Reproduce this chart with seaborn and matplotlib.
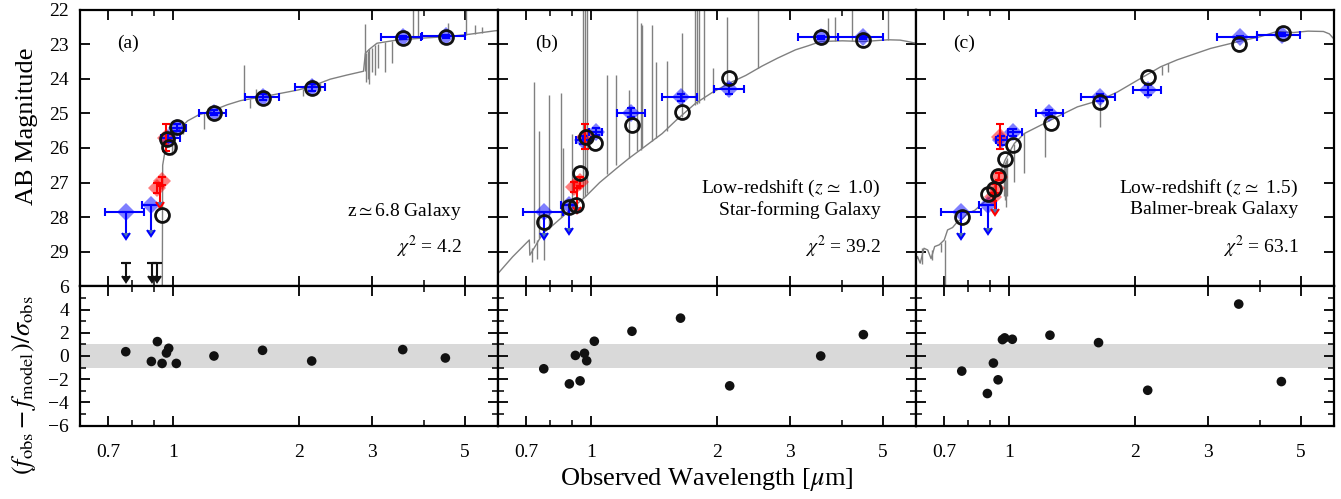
import numpy as np
import matplotlib
matplotlib.use('Agg')
import matplotlib.pyplot as plt
from matplotlib.ticker import FixedLocator, FixedFormatter, NullFormatter, MultipleLocator
import seaborn as sns

# filter wavelengths used in the residual rows [um]
res_wl = [0.772, 0.889, 0.919, 0.943, 0.966, 0.978, 1.02, 1.255, 1.64, 2.15, 3.55, 4.49]

# ---------------- panel (a): z~6.8 galaxy ----------------
a_spec_wl = [0.944, 0.946, 0.955, 0.97, 0.99, 1.02, 1.05, 1.084, 1.15, 1.255, 1.35, 1.453, 1.55, 1.64,
             1.81, 2.0, 2.155, 2.38, 2.61, 2.86, 2.89, 2.95, 3.08, 3.43, 3.98, 4.52, 5.13, 5.9, 6.05]
a_spec_mag = [30.5, 26.5, 26.2, 25.95, 25.7, 25.55, 25.4, 25.22, 25.05, 24.9, 24.75, 24.63, 24.57, 24.52,
              24.42, 24.32, 24.21, 24.01, 23.89, 23.78, 23.26, 23.15, 22.97, 22.88, 22.82, 22.78, 22.71, 22.61, 22.6]
a_feat_wl = [0.995, 1.005, 1.06, 1.19, 1.30, 1.48, 1.53, 1.58, 1.70, 2.05, 2.15, 2.25, 2.88, 2.90, 2.93,
             2.95, 2.99, 3.04, 3.10, 3.22, 3.35, 3.76, 3.87, 4.56, 5.04, 5.30, 5.50]
a_feat_from = [25.65, 25.6, 25.38, 25.0, 24.85, 24.62, 24.58, 24.55, 24.48, 24.3, 24.21, 24.12, 23.78, 23.25, 23.2,
               23.15, 23.1, 23.02, 22.98, 22.93, 22.9, 22.83, 22.82, 22.78, 22.72, 22.69, 22.67]
a_feat_to = [26.2, 26.1, 25.6, 25.45, 25.1, 23.6, 24.85, 24.3, 24.7, 24.5, 24.0, 24.35, 22.42, 24.1, 24.0,
             24.15, 23.8, 23.9, 23.7, 23.79, 23.55, 21.8, 21.8, 22.39, 22.0, 22.45, 22.5]
a_blue_wl = [0.772, 0.886, 0.975, 1.025, 1.255, 1.642, 2.155, 3.55, 4.50]
a_blue_mag = [27.84, 27.65, 25.72, 25.42, 24.98, 24.52, 24.25, 22.80, 22.77]
a_blue_err = [0.62, 0.72, 0.12, 0.10, 0.08, 0.08, 0.10, 0.04, 0.05]
a_blue_lo = [0.688, 0.843, 0.935, 0.99, 1.153, 1.485, 1.965, 3.15, 3.94]
a_blue_hi = [0.853, 0.931, 1.04, 1.074, 1.343, 1.80, 2.31, 3.93, 5.0]
a_blue_ul = [True, True, False, False, False, False, False, False, False]
a_red_wl = [0.962, 0.919, 0.940, 0.930]
a_red_mag = [25.70, 27.15, 26.95, 27.10]
a_red_err = [0.40, 0.15, 0.12, 0.45]
a_red_ul = [False, False, False, True]
a_model_wl = [0.945, 0.968, 0.977, 1.022, 1.255, 1.642, 2.155, 3.55, 4.50]
a_model_mag = [27.94, 25.73, 25.98, 25.40, 24.99, 24.56, 24.27, 22.81, 22.78]
a_lim_wl = [0.772, 0.894, 0.919]
a_lim_mag = [29.33, 29.33, 29.33]
a_res = [0.37, -0.47, 1.24, -0.64, 0.26, 0.66, -0.64, 0.0, 0.49, -0.43, 0.55, -0.17]

# ---------------- panel (b): z~1.0 star-forming ----------------
b_spec_wl = [0.6, 0.65, 0.713, 0.715, 0.74, 0.768, 0.8, 0.856, 0.9, 0.973, 1.05, 1.15, 1.234, 1.35, 1.483,
             1.6, 1.78, 1.95, 2.14, 2.35, 2.57, 2.8, 3.09, 3.3, 3.55, 4.0, 4.5, 5.15, 5.5, 5.73, 6.05]
b_spec_mag = [29.63, 29.15, 28.66, 29.1, 28.8, 28.47, 28.3, 27.99, 27.75, 27.4, 27.0, 26.6, 26.3, 25.95, 25.58,
              25.2, 24.71, 24.4, 24.13, 23.9, 23.63, 23.4, 23.16, 23.05, 22.92, 22.9, 22.92, 22.87, 22.88, 22.92, 22.98]
b_feat_wl = [0.722, 0.732, 0.745, 0.753, 0.775, 0.796, 0.848, 0.856, 0.904, 0.958, 0.969, 0.982, 1.096, 1.152,
             1.234, 1.288, 1.316, 1.328, 1.398, 1.435, 1.52, 1.655, 1.775, 1.797, 1.82, 1.87, 1.962, 2.118,
             2.51, 3.70, 3.84, 4.21, 5.15]
b_feat_from = [28.9, 28.75, 28.65, 28.6, 28.45, 28.35, 28.0, 27.95, 27.7, 27.45, 27.4, 27.3, 26.75, 26.5,
               26.3, 26.1, 26.05, 26.0, 25.8, 25.7, 25.5, 25.1, 24.75, 24.72, 24.7, 24.6, 24.4, 24.15,
               23.7, 22.91, 22.9, 22.9, 22.87]
b_feat_to = [29.3, 24.08, 29.2, 25.5, 29.25, 24.47, 24.42, 26.0, 25.6, 21.8, 21.8, 21.8, 23.89, 23.89,
             24.32, 21.8, 22.39, 22.44, 22.44, 23.5, 23.48, 22.68, 21.8, 21.8, 21.8, 21.8, 23.7, 22.2,
             21.8, 22.25, 22.2, 21.8, 21.8]
b_blue_wl = [0.771, 0.888, 0.96, 1.027, 1.246, 1.64, 2.14, 3.55, 4.48]
b_blue_mag = [27.84, 27.65, 25.77, 25.53, 24.98, 24.53, 24.30, 22.80, 22.79]
b_blue_err = [0.62, 0.67, 0.12, 0.10, 0.13, 0.10, 0.15, 0.04, 0.05]
b_blue_lo = [0.687, 0.848, 0.921, 0.989, 1.153, 1.48, 1.97, 3.14, 3.9]
b_blue_hi = [0.856, 0.929, 1.0, 1.066, 1.345, 1.80, 2.32, 3.9, 5.0]
b_blue_ul = [True, True, False, False, False, False, False, False, False]
b_red_wl = [0.969, 0.912, 0.943, 0.925]
b_red_mag = [25.68, 27.12, 26.97, 27.15]
b_red_err = [0.36, 0.15, 0.12, 0.55]
b_red_ul = [False, False, False, True]
b_model_wl = [0.771, 0.885, 0.921, 0.943, 0.973, 1.022, 1.253, 1.655, 2.147, 3.55, 4.49]
b_model_mag = [28.13, 27.72, 27.65, 26.73, 25.67, 25.86, 25.33, 24.95, 23.98, 22.80, 22.88]
b_res = [-1.1, -2.4, 0.05, -2.14, 0.23, -0.41, 1.27, 2.13, 3.26, -2.57, 0.0, 1.84]

# ---------------- panel (c): z~1.5 Balmer break ----------------
c_spec_wl = [0.598, 0.605, 0.614, 0.627, 0.64, 0.652, 0.665, 0.682, 0.701, 0.714, 0.734, 0.754, 0.775,
             0.797, 0.83, 0.857, 0.906, 0.924, 0.944, 0.98, 1.031, 1.09, 1.216, 1.33, 1.46, 1.65, 1.82,
             2.1, 2.31, 2.53, 3.04, 3.55, 4.0, 4.38, 4.8, 5.2, 5.66, 5.85, 6.05]
c_spec_mag = [29.3, 29.14, 29.33, 28.9, 28.95, 29.2, 28.85, 28.8, 28.66, 28.37, 28.3, 28.13, 28.05,
              27.89, 27.8, 27.65, 27.41, 27.12, 26.85, 26.35, 25.87, 25.58, 25.29, 25.05, 24.81, 24.62, 24.38,
              23.94, 23.65, 23.45, 23.12, 22.92, 22.78, 22.63, 22.66, 22.62, 22.63, 22.7, 22.9]
c_feat_wl = [0.62, 0.655, 0.69, 0.702, 0.976, 0.981, 0.987, 0.993, 1.031, 1.09, 1.22, 1.65, 2.33, 2.4]
c_feat_from = [28.9, 28.95, 28.75, 28.66, 26.45, 26.4, 26.35, 26.3, 25.87, 25.58, 25.29, 24.62, 23.62, 23.55]
c_feat_to = [29.35, 29.25, 29.0, 30.5, 27.4, 27.5, 27.7, 27.4, 26.97, 26.73, 26.25, 25.38, 23.9, 23.8]
c_blue_wl = [0.77, 0.891, 0.96, 1.022, 1.25, 1.65, 2.15, 3.57, 4.50]
c_blue_mag = [27.84, 27.65, 25.78, 25.55, 24.98, 24.53, 24.32, 22.80, 22.72]
c_blue_err = [0.63, 0.67, 0.12, 0.10, 0.08, 0.10, 0.14, 0.04, 0.05]
c_blue_lo = [0.689, 0.851, 0.933, 0.995, 1.162, 1.49, 1.98, 3.15, 3.93]
c_blue_hi = [0.856, 0.933, 0.99, 1.075, 1.35, 1.80, 2.31, 3.93, 4.98]
c_blue_ul = [True, True, False, False, False, False, False, False, False]
c_red_wl = [0.955, 0.919, 0.933, 0.946, 0.928]
c_red_mag = [25.67, 27.41, 27.17, 26.83, 27.35]
c_red_err = [0.36, 0.12, 0.12, 0.10, 0.40]
c_red_ul = [False, False, False, False, True]
c_model_wl = [0.773, 0.891, 0.921, 0.944, 0.98, 1.024, 1.262, 1.65, 2.15, 3.55, 4.53]
c_model_mag = [27.99, 27.34, 27.19, 26.80, 26.33, 25.91, 25.29, 24.68, 23.96, 23.00, 22.68]
c_res = [-1.3, -3.23, -0.61, -2.05, 1.41, 1.56, 1.44, 1.79, 1.15, -2.95, 4.47, -2.2]

panels = [
    dict(tag='(a)', lines=['z$\\simeq$6.8 Galaxy'], chi='$\\chi^2$ = 4.2',
         spec=(a_spec_wl, a_spec_mag), feat=(a_feat_wl, a_feat_from, a_feat_to),
         blue=(a_blue_wl, a_blue_mag, a_blue_err, a_blue_lo, a_blue_hi, a_blue_ul),
         red=(a_red_wl, a_red_mag, a_red_err, a_red_ul), model=(a_model_wl, a_model_mag),
         lim=(a_lim_wl, a_lim_mag), res=a_res),
    dict(tag='(b)', lines=['Low-redshift ($z\\,\\simeq$ 1.0)', 'Star-forming Galaxy'], chi='$\\chi^2$ = 39.2',
         spec=(b_spec_wl, b_spec_mag), feat=(b_feat_wl, b_feat_from, b_feat_to),
         blue=(b_blue_wl, b_blue_mag, b_blue_err, b_blue_lo, b_blue_hi, b_blue_ul),
         red=(b_red_wl, b_red_mag, b_red_err, b_red_ul), model=(b_model_wl, b_model_mag),
         lim=None, res=b_res),
    dict(tag='(c)', lines=['Low-redshift ($z\\,\\simeq$ 1.5)', 'Balmer-break Galaxy'], chi='$\\chi^2$ = 63.1',
         spec=(c_spec_wl, c_spec_mag), feat=(c_feat_wl, c_feat_from, c_feat_to),
         blue=(c_blue_wl, c_blue_mag, c_blue_err, c_blue_lo, c_blue_hi, c_blue_ul),
         red=(c_red_wl, c_red_mag, c_red_err, c_red_ul), model=(c_model_wl, c_model_mag),
         lim=None, res=c_res),
]

sns.set_theme(style='ticks')
plt.rcParams.update({
    'font.family': ['Liberation Serif', 'DejaVu Serif'],
    'mathtext.fontset': 'stix',
    'axes.linewidth': 1.6,
    'axes.edgecolor': 'black', 'axes.labelcolor': 'black', 'text.color': 'black',
    'xtick.color': 'black', 'ytick.color': 'black',
    'xtick.direction': 'in', 'ytick.direction': 'in',
    'xtick.top': True, 'ytick.right': True,
    'xtick.major.size': 7, 'ytick.major.size': 7,
    'xtick.minor.size': 4, 'ytick.minor.size': 4,
    'xtick.major.width': 1.3, 'ytick.major.width': 1.3,
    'xtick.minor.width': 1.1, 'ytick.minor.width': 1.1,
    'xtick.labelsize': 14, 'ytick.labelsize': 14,
    'xtick.major.pad': 13, 'ytick.major.pad': 8,
    'axes.labelsize': 19,
})

fig = plt.figure(figsize=(13.41, 4.99), dpi=100)
gs = fig.add_gridspec(2, 3, left=80 / 1341, right=1334 / 1341, top=1 - 9.7 / 499, bottom=1 - 425.7 / 499,
                      hspace=0, wspace=0, height_ratios=[276.6, 139.4])

spec_col = '#808080'
for i, p in enumerate(panels):
    ax = fig.add_subplot(gs[0, i])
    axr = fig.add_subplot(gs[1, i], sharex=ax)
    ax.set_xscale('log')
    ax.set_xlim(0.6, 6.0)
    ax.set_ylim(30, 22)

    wl, mag = p['spec']
    sns.lineplot(x=wl, y=mag, ax=ax, color=spec_col, lw=1.0, estimator=None, sort=False, zorder=1)
    fw, f0, f1 = p['feat']
    ax.vlines(fw, f0, f1, color=spec_col, lw=1.0, zorder=1)

    bw, bm, be, blo, bhi, bul = [np.array(v) for v in p['blue']]
    xe = np.vstack([bw - blo, bhi - bw])
    ax.plot(bw, bm, 'D', color='blue', alpha=0.5, ms=9, mew=0, zorder=2)
    det = ~bul
    ax.errorbar(bw[det], bm[det], yerr=be[det], xerr=xe[:, det], fmt='none', ecolor='blue',
                elinewidth=1.5, capsize=3, capthick=1.5, zorder=3)
    ax.errorbar(bw[bul], bm[bul], yerr=be[bul], xerr=xe[:, bul], lolims=True, fmt='none', ecolor='blue',
                elinewidth=1.5, capsize=3, capthick=1.5, zorder=3)

    rw, rm, re_, rul = [np.array(v) for v in p['red']]
    ax.plot(rw[~rul], rm[~rul], 'D', color='red', alpha=0.5, ms=9, mew=0, zorder=2)
    ax.errorbar(rw[~rul], rm[~rul], yerr=re_[~rul], fmt='none', ecolor='red', elinewidth=1.5,
                capsize=3, capthick=1.5, zorder=3)
    ax.errorbar(rw[rul], rm[rul], yerr=re_[rul], lolims=True, fmt='none', ecolor='red', elinewidth=1.5,
                capsize=3, capthick=1.5, zorder=3)

    mw, mm = p['model']
    ax.plot(mw, mm, 'o', mfc='none', mec='#111111', mew=2.0, ms=10, zorder=4)

    if p['lim'] is not None:
        lw_, lm = [np.array(v) for v in p['lim']]
        ax.errorbar(lw_, lm, yerr=0.36, lolims=True, fmt='_', color='#111111', ms=7, mew=1.5,
                    elinewidth=1.5, capsize=3, zorder=3)

    ax.text(0.088, 0.88, p['tag'], transform=ax.transAxes, fontsize=14, ha='left', va='center')
    ys = [0.354, 0.276] if len(p['lines']) == 2 else [0.27]
    for t, y in zip(p['lines'], ys):
        ax.text(0.915, y, t, transform=ax.transAxes, fontsize=14, ha='right', va='center')
    ax.text(0.915, 0.143, p['chi'], transform=ax.transAxes, fontsize=14, ha='right', va='center')

    ax.yaxis.set_major_locator(FixedLocator(list(range(22, 30))))
    ax.tick_params(labelbottom=False)

    # residuals
    axr.axhspan(-1, 1, color='#d9d9d9', lw=0, zorder=0)
    sns.scatterplot(x=res_wl, y=p['res'], ax=axr, color='#111111', s=48, edgecolor='none', zorder=3)
    axr.set_ylim(-6, 6)
    axr.yaxis.set_major_locator(MultipleLocator(2))
    axr.yaxis.set_minor_locator(MultipleLocator(1))
    axr.xaxis.set_major_locator(FixedLocator([0.7, 1, 2, 3, 5]))
    axr.xaxis.set_major_formatter(FixedFormatter(['0.7', '1', '2', '3', '5']))
    axr.xaxis.set_minor_locator(FixedLocator([0.8, 0.9, 4]))
    axr.xaxis.set_minor_formatter(NullFormatter())

    for a_ in (ax, axr):
        a_.tick_params(which='both', top=True, right=True, direction='in')
        for s in a_.spines.values():
            s.set_linewidth(1.6)
            s.set_color('black')
    if i > 0:
        ax.tick_params(labelleft=False)
        axr.tick_params(labelleft=False)
    else:
        ax.set_ylabel('AB Magnitude')
        ax.yaxis.set_label_coords(-0.10, 0.58)
        axr.set_ylabel('$(f_{\\rm obs} - f_{\\rm model})/\\sigma_{\\rm obs}$')
        axr.yaxis.set_label_coords(-0.10, 0.29)
    if i == 1:
        axr.set_xlabel('Observed Wavelength [$\\mu$m]', labelpad=4)

fig.savefig('out.png', dpi=100)
